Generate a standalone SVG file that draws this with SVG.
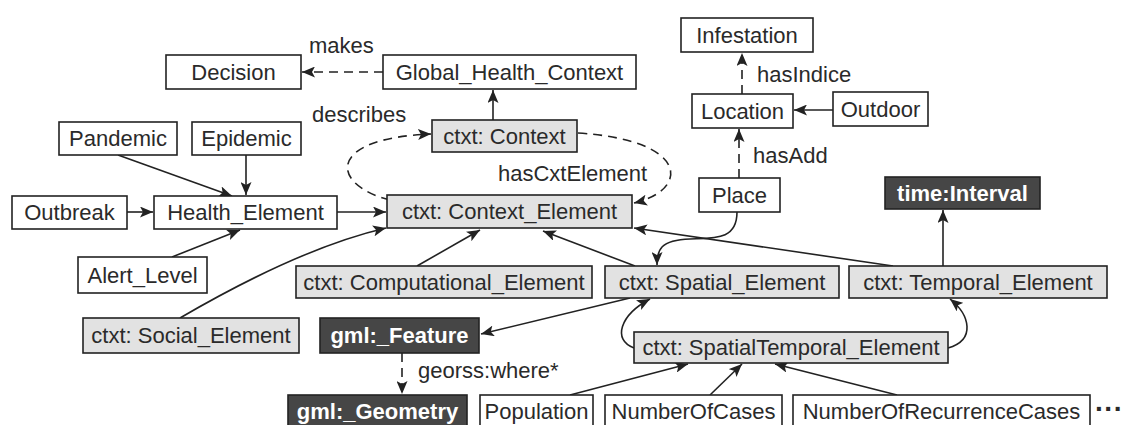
<svg xmlns="http://www.w3.org/2000/svg" width="1125" height="425" viewBox="0 0 1125 425">
<style>
text{font-family:"Liberation Sans",Arial,sans-serif;font-size:22px;fill:#2a2a2a}
.n rect{fill:#fff;stroke:#222;stroke-width:1.6}
.g rect{fill:#e2e2e2;stroke:#222;stroke-width:1.6}
.d rect{fill:#464646;stroke:#222;stroke-width:1.6}
.n text,.g text,.d text{text-anchor:middle}
.d text{fill:#fff;font-weight:bold}
.c path{fill:none;stroke:#222;stroke-width:1.6}
.c .ds{stroke-dasharray:9 6}
</style>
<defs>
<marker id="a" markerWidth="13" markerHeight="11" refX="13" refY="5.5" orient="auto" markerUnits="userSpaceOnUse"><path d="M0,0 L13,5.5 L0,11 L3,5.5 z" fill="#222"/></marker>
</defs>
<rect width="1125" height="425" fill="#fff"/>
<g class="c" id="connectors">
<path class="ds" d="M383,72 L302,72" marker-end="url(#a)"/>
<path d="M493,120 L493,90" marker-end="url(#a)"/>
<path class="ds" d="M390,200 C330,185 325,138 431,134" marker-end="url(#a)"/>
<path class="ds" d="M578,133 C690,140 690,190 634,203" marker-end="url(#a)"/>
<path d="M337,212 L386,212" marker-end="url(#a)"/>
<path d="M127,212 L153,212" marker-end="url(#a)"/>
<path d="M118,155 L232,196" marker-end="url(#a)"/>
<path d="M246,155 L246,195" marker-end="url(#a)"/>
<path d="M172,257 L240,230" marker-end="url(#a)"/>
<path d="M180,318 Q300,248 386,228" marker-end="url(#a)"/>
<path d="M417,266 L480,230" marker-end="url(#a)"/>
<path d="M635,266 L543,231" marker-end="url(#a)"/>
<path d="M893,266 L634,228" marker-end="url(#a)"/>
<path d="M737,212 C737,240 715,238 690,239 C660,240 657,250 657,265" marker-end="url(#a)"/>
<path class="ds" d="M739,178 L739,129" marker-end="url(#a)"/>
<path class="ds" d="M742,94 L742,53" marker-end="url(#a)"/>
<path d="M833,110 L794,110" marker-end="url(#a)"/>
<path d="M943,266 L943,210" marker-end="url(#a)"/>
<path d="M630,298 L481,334" marker-end="url(#a)"/>
<path d="M634,348 C612,340 620,315 650,299" marker-end="url(#a)"/>
<path d="M948,348 C976,340 970,315 950,299" marker-end="url(#a)"/>
<path class="ds" d="M402,353 L402,394" marker-end="url(#a)"/>
<path d="M570,395 L688,364" marker-end="url(#a)"/>
<path d="M710,395 L742,364" marker-end="url(#a)"/>
<path d="M897,395 L775,364" marker-end="url(#a)"/>
<text x="309" y="53">makes</text>
<text x="312" y="122">describes</text>
<text x="498" y="181">hasCxtElement</text>
<text x="757" y="82">hasIndice</text>
<text x="753" y="163">hasAdd</text>
<text x="418" y="378">georss:where*</text>
<text x="1095" y="418" style="font-size:28px;font-weight:bold">···</text>
</g>
<g class="n" id="decision"><rect x="166" y="55" width="135" height="34"/><text x="233.5" y="80">Decision</text></g>
<g class="n" id="global-health-context"><rect x="383" y="55" width="253" height="34"/><text x="509.5" y="80">Global_Health_Context</text></g>
<g class="n" id="infestation"><rect x="681" y="18" width="132" height="34"/><text x="747" y="43">Infestation</text></g>
<g class="n" id="location"><rect x="692" y="94" width="101" height="34"/><text x="742.5" y="119">Location</text></g>
<g class="n" id="outdoor"><rect x="833" y="92" width="95" height="34"/><text x="880.5" y="117">Outdoor</text></g>
<g class="g" id="ctxt-context"><rect x="432" y="120" width="145" height="32"/><text x="504.5" y="144">ctxt: Context</text></g>
<g class="n" id="pandemic"><rect x="59" y="122" width="118" height="33"/><text x="118" y="146">Pandemic</text></g>
<g class="n" id="epidemic"><rect x="192" y="122" width="109" height="33"/><text x="246.5" y="146">Epidemic</text></g>
<g class="n" id="outbreak"><rect x="12" y="196" width="115" height="33"/><text x="69.5" y="220">Outbreak</text></g>
<g class="n" id="health-element"><rect x="154" y="196" width="183" height="33"/><text x="245.5" y="220">Health_Element</text></g>
<g class="g" id="context-element"><rect x="387" y="195" width="245" height="33"/><text x="509.5" y="219">ctxt: Context_Element</text></g>
<g class="n" id="place"><rect x="699" y="178" width="81" height="34"/><text x="739.5" y="203">Place</text></g>
<g class="d" id="time-interval"><rect x="885" y="177" width="155" height="32"/><text x="962.5" y="201">time:Interval</text></g>
<g class="n" id="alert-level"><rect x="78" y="257" width="129" height="36"/><text x="142.5" y="283">Alert_Level</text></g>
<g class="g" id="computational-element"><rect x="296" y="266" width="296" height="32"/><text x="444" y="290">ctxt: Computational_Element</text></g>
<g class="g" id="spatial-element"><rect x="605" y="266" width="234" height="32"/><text x="722" y="290">ctxt: Spatial_Element</text></g>
<g class="g" id="temporal-element"><rect x="849" y="266" width="258" height="32"/><text x="978" y="290">ctxt: Temporal_Element</text></g>
<g class="g" id="social-element"><rect x="83" y="318" width="216" height="35"/><text x="191" y="343">ctxt: Social_Element</text></g>
<g class="d" id="gml-feature"><rect x="320" y="318" width="159" height="35"/><text x="399.5" y="343">gml:_Feature</text></g>
<g class="g" id="spatialtemporal-element"><rect x="634" y="332" width="314" height="31"/><text x="791" y="355">ctxt: SpatialTemporal_Element</text></g>
<g class="d" id="gml-geometry"><rect x="288" y="395" width="179" height="36"/><text x="377.5" y="419">gml:_Geometry</text></g>
<g class="n" id="population"><rect x="480" y="395" width="113" height="36"/><text x="536.5" y="419">Population</text></g>
<g class="n" id="numberofcases"><rect x="605" y="395" width="177" height="36"/><text x="693.5" y="419">NumberOfCases</text></g>
<g class="n" id="numberofrecurrencecases"><rect x="793" y="395" width="297" height="36"/><text x="941.5" y="419">NumberOfRecurrenceCases</text></g>
</svg>
